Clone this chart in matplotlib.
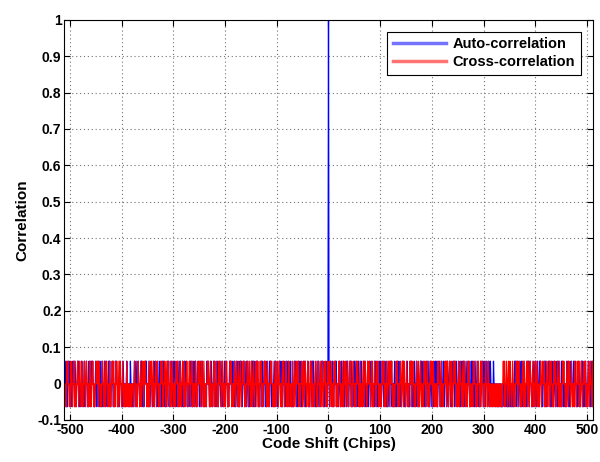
import numpy as np
import matplotlib
matplotlib.use("Agg")
import matplotlib.pyplot as plt

# Correlation levels of a 1023-chip Gold code: '+' = 63/1023, '0' = -1/1023, '-' = -65/1023
level_map = {"+": 63 / 1023, "0": -1 / 1023, "-": -65 / 1023}

# auto-correlation, negative shifts (-511 .. -1)
auto_neg = (
    "0+-00+0-0+00-+0-00+0-0+-0+00-0+0--0+00+-00-0+00-+0"
    "-00+0+-0-00+00-0+-00+0-0-+00-0+0+00--0+0-00+0-+00-"
    "+0-00+-0+0-00+0+--00+0-00-+0+00-0-0+00-0-+0-0-00+0"
    "00-0-+00-0-00+-0+0-0+00-00++0-0-00+0+-00-+0-0+00-0+"
    "-0+00-0+-00+0-0-+0+00-0-00+0+-0-0+00-0++0-00-0+0-0"
    "+00-0+-0-+00+0-00-0+0+0--00+0-+0-00+00-0+0-+00-0-0"
    "0-+0+00-0-+00-0+0+-00-+0-00+0-0+0-00+-0+00-0-0+0+0"
    "-0+00-+0-0+00-0-+0+0-00+0-00+-0+0-0-00+0+0-+00-0+0"
    "+0-0-00+0+-00+0-0-+00-0+0+0-00-0+-0+00-0-0+00+-0-0"
    "0+0-00+-0+0-0+00-0--0+00+0-0-+00+0-0-00+0+-0-00+0-"
    "-00+0-+0+00-0-0+0-+00-00+0+-0-00+0-0+"
)
auto_peak = 1.0
# auto-correlation, positive shifts (1 .. 511)
auto_pos = (
    "0-0+00-+0-00+0+-00-0+0-0+00-+0-00+-0+0-00+0-+0-00+"
    "-0+0-00+0--0+00-0+0+-00-0+-00+0-0+0-00-+0+0-0-00+0"
    "+-00+0-0+00-0-+0-0+00+-0-00+0-0-+00+0-00-0+0+0-0-0"
    "0+00-0-+0+0-00-+00-0+0-0-00+0+-0+0-00-0+00-+0-0+0-"
    "-0-00+0+0--00+0-0+-00+0-00+0-+0-0+00-0-0+0+-00+0-0"
    "0+-0-00+0-+00-0+0-0+00--0+0+00-0-0+-00+0-0-0+00+-0"
    "+0-00+0-0+-0+00-0-+00-0-00-0-0-00--0-000-00-0-0-00"
    "-0-00-0-0+0+-00+0-0+0-+00-0+0-0-00+0+-0+00-0-0+0-+"
    "0-0+00-+0+0-0-00+0-+0-00+0+0-0-+00-0+0-00+-0+0-00-"
    "+0+-00-0-0+00+-0-0+00-0+-0+00-0-0+0-00+0+-0-00+0-0"
    "-0+00-0+0-+00-0-0+00+0-"
)
# cross-correlation, shifts centred on 0
cross = (
    "-0+0-00+-0+00-0-+0+00-0-+00-0+0+-0-00+0-0+00-+0-00"
    "+0-0+00-0-+0+-00+0-0-00+0+0-+00-0-0+00-0+-0+00-0-+"
    "0-00+0+-0-0+00-+0-0+00-0+0-00-0-+0-0-00-0-000-0+00"
    "-0-0+00-0+-00+0-+0+00-0-0+-00+0-0+0-00+-0+00-0-0+0"
    "+0-00+0-+0-0+00-0+-0+0-00-0+00+-0-0+0-00+0-+0-00+0"
    "-00+0-0+0+-00-0+0-0-+00+0-0+00-+0-0-00+0+0-0+-00-0"
    "0+-00+0-0-+0+00-0+0-00-+0+0-0-00+0+-00-0+0-0+00-+0"
    "-0+0-00+0+-0-00+0-0+00-+0-0+0-00+0-+00-0+0+-0-00+0"
    "+0-0+-00-0+0+00-0-0+-00+0-0+00-0-+0+0-00+0-0-+00-0"
    "0-+00-0+0-0+00+-0-00+0-+0-0+00-0+0-00+-0+0-0-00+0-"
    "-0+00-0+-0+0-00+0-0-+00+0-0+0-00-+0+0-00-0+0+-00-0"
    "+-00+0-0+0-00+0+-0-0+00-0-+0+00-0+0-00-+0-0+00-0+0"
    "0+0-00+-0-0+00-0+0+-00-0-0+00+-0-0+0-00+0-+0+00-0-"
    "-00+0+-0-00+0-0+0-+00-0+0-0-00+0+-0+00-0-0+00-+0-0"
    "+0-00-0+0+-00+0-0-0+00+-0+0-00-0-+0+00-0+0-0-00+0+"
    "-0+0-00+0-+0-00+0+0-00-+0-0+00-0+-0+0-00-0+0+-00-0"
    "0-+0+00-0-0+00-0+-0+00-0-0+00-0+0-0-00-0-000-0-00-"
    "0-00-0-0-0+0+-00+0-0+0-+00-0+0-0-00+0+-0+00-0-0+0-"
    "+0-00+0-+0-0+00-0+0-00+-0+0-0-00+0-0+00+-0-0+0-00+"
    "-0+00-0-+0+0-00+0-0+-00-0+0+00-0-+0-0+00-0+0-00-+0"
    "0-0+00+-0-0+0-00+0+-00-0+0-0+00-+0-0-00+0+0-"
)

y_ticks = [-0.1, 0, 0.1, 0.2, 0.3, 0.4, 0.5, 0.6, 0.7, 0.8, 0.9, 1]
y_labels = ["-0.1", "0", "0.1", "0.2", "0.3", "0.4", "0.5", "0.6", "0.7", "0.8", "0.9", "1"]
x_ticks = [-500, -400, -300, -200, -100, 0, 100, 200, 300, 400, 500]
x_labels = ["-500", "-400", "-300", "-200", "-100", "0", "100", "200", "300", "400", "500"]

# build shift axes and values
auto_vals = ([level_map[c] for c in auto_neg] + [auto_peak] + [level_map[c] for c in auto_pos])
auto_x = np.arange(-len(auto_neg), len(auto_pos) + 1)
cross_vals = [level_map[c] for c in cross]
cross_x = np.arange(len(cross)) - len(cross) // 2

plt.rcParams["font.family"] = ["Liberation Sans", "DejaVu Sans"]
plt.rcParams["font.weight"] = "bold"

fig = plt.figure(figsize=(6.0, 4.62), dpi=100)
ax = fig.add_axes([0.107, 0.091, 0.881, 0.866])

ax.plot(auto_x, auto_vals, color="b", lw=0.9, label="Auto-correlation")
ax.plot(cross_x, cross_vals, color="r", lw=0.9, label="Cross-correlation")

ax.set_xlim(-511, 511)
ax.set_ylim(-0.1, 1)
ax.set_xticks(x_ticks)
ax.set_xticklabels(x_labels)
ax.set_yticks(y_ticks)
ax.set_yticklabels(y_labels)
ax.tick_params(direction="in", top=True, right=True, labelsize=10, length=4, width=0.8, pad=2)
for lab in ax.get_xticklabels() + ax.get_yticklabels():
    lab.set_fontweight("bold")
ax.grid(True, linestyle=(0, (1, 2.5)), color="0.45", lw=0.8)
for s in ax.spines.values():
    s.set_linewidth(0.8)

ax.set_xlabel("Code Shift (Chips)", fontsize=11, fontweight="bold", labelpad=0)
ax.set_ylabel("Correlation", fontsize=11, fontweight="bold", labelpad=6)

leg = ax.legend(loc="upper right", fontsize=10.5, fancybox=False, edgecolor="black",
                framealpha=1, handlelength=3.6, handletextpad=0.5,
                borderaxespad=0.8, labelspacing=0.25)
leg.get_frame().set_linewidth(0.8)
for line in leg.get_lines():
    line.set_linewidth(2.5)
    line.set_alpha(0.55)

fig.savefig("out.png", dpi=100)
